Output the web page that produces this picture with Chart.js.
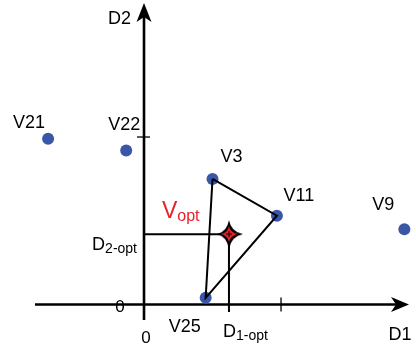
<!DOCTYPE html>
<html>
<head>
<meta charset="utf-8">
<script src="https://cdn.jsdelivr.net/npm/chart.js@4/dist/chart.umd.min.js"></script>
<style>
html,body{margin:0;padding:0;background:#fff;}
#c{display:block;}
</style>
</head>
<body>
<canvas id="c" width="416" height="347"></canvas>
<script>
// ---- data ----
const names = ['V21', 'V22', 'V3', 'V11', 'V9', 'V25'];
const d1 = [-0.70, -0.13, 0.50, 0.97, 1.90, 0.45];
const d2 = [0.99, 0.92, 0.75, 0.53, 0.45, 0.04];
const triangle = ['V3', 'V11', 'V25', 'V3'];
const optName = ['V', 'opt'];
const optD1 = [0.62];
const optD2 = [0.42];
const axisNames = ['D1', 'D2'];
const tickValues = [1];
const originLabel = ['0'];

// ---- styles / layout (not data) ----
const FONT = '"Liberation Sans", Arial, sans-serif';
const DOT = '#3a57a7';
const labelOffset = {V21: [-19, -11], V22: [-2, -20], V3: [19, -17], V11: [22, -15], V9: [-21, -19], V25: [-21, 34]};

const pts = names.map((n, i) => ({x: d1[i], y: d2[i]}));
const triPts = triangle.map(n => pts[names.indexOf(n)]);

function makeStar() {
  const c = document.createElement('canvas');
  c.width = 32; c.height = 34;
  const g = c.getContext('2d');
  const cx = 16, cy = 17;
  function star(up, down, left, right, w, col) {
    g.beginPath();
    g.moveTo(cx, cy - up);
    g.quadraticCurveTo(cx + w, cy - w, cx + right, cy);
    g.quadraticCurveTo(cx + w, cy + w, cx, cy + down);
    g.quadraticCurveTo(cx - w, cy + w, cx - left, cy);
    g.quadraticCurveTo(cx - w, cy - w, cx, cy - up);
    g.closePath();
    g.fillStyle = col; g.fill();
  }
  star(14, 15, 12, 14, 2.2, '#000');
  star(8, 8, 8, 9, 1.3, '#e8212a');
  g.fillStyle = '#000';
  g.fillRect(cx - 0.5, cy - 3, 1, 6);
  g.fillRect(cx - 3, cy - 0.5, 6, 1);
  return c;
}
const starImg = makeStar();

const axesPlugin = {
  id: 'axes',
  beforeDatasetsDraw(chart) {
    const ctx = chart.ctx, xs = chart.scales.x, ys = chart.scales.y;
    const ox = xs.getPixelForValue(0), oy = ys.getPixelForValue(0);
    ctx.save();
    ctx.strokeStyle = '#000'; ctx.fillStyle = '#000';
    ctx.lineWidth = 2.6;
    // x axis
    ctx.beginPath(); ctx.moveTo(35, oy); ctx.lineTo(400, oy); ctx.stroke();
    // y axis
    ctx.beginPath(); ctx.moveTo(ox, 320); ctx.lineTo(ox, 12); ctx.stroke();
    // arrowheads
    ctx.beginPath();
    ctx.moveTo(409, oy); ctx.lineTo(391, oy - 7.5); ctx.lineTo(396, oy); ctx.lineTo(391, oy + 7.5); ctx.closePath(); ctx.fill();
    ctx.beginPath();
    ctx.moveTo(ox, 3); ctx.lineTo(ox - 7.5, 22); ctx.lineTo(ox, 17); ctx.lineTo(ox + 7.5, 22); ctx.closePath(); ctx.fill();
    // ticks
    ctx.lineWidth = 1.3;
    tickValues.forEach(v => {
      const px = xs.getPixelForValue(v);
      ctx.beginPath(); ctx.moveTo(px, oy - 7); ctx.lineTo(px, oy + 7); ctx.stroke();
      const py = ys.getPixelForValue(v);
      ctx.beginPath(); ctx.moveTo(ox - 7, py); ctx.lineTo(ox + 6, py); ctx.stroke();
    });
    ctx.restore();
  },
  afterDatasetsDraw(chart) {
    const ctx = chart.ctx, xs = chart.scales.x, ys = chart.scales.y;
    const ox = xs.getPixelForValue(0), oy = ys.getPixelForValue(0);
    ctx.save();
    ctx.fillStyle = '#000';
    ctx.textBaseline = 'alphabetic';
    ctx.font = '18px ' + FONT;
    ctx.textAlign = 'center';
    names.forEach((n, i) => {
      const o = labelOffset[n];
      ctx.fillText(n, xs.getPixelForValue(d1[i]) + o[0], ys.getPixelForValue(d2[i]) + o[1]);
    });
    // axis names
    ctx.fillText(axisNames[0], 400, 340);
    ctx.textAlign = 'right';
    ctx.fillText(axisNames[1], ox - 13, 24);
    // zeros
    ctx.textAlign = 'center';
    ctx.font = '17px ' + FONT;
    ctx.fillText(originLabel[0], ox + 2, 343);
    ctx.fillText(originLabel[0], ox - 24, 312);
    const sx = xs.getPixelForValue(optD1[0]), sy = ys.getPixelForValue(optD2[0]);
    function sub(main, subTxt, x, y, mainSize, subSize, color, align) {
      ctx.fillStyle = color;
      ctx.font = mainSize + 'px ' + FONT;
      const w1 = ctx.measureText(main).width;
      ctx.font = subSize + 'px ' + FONT;
      const w2 = ctx.measureText(subTxt).width;
      let x0 = x;
      if (align === 'right') x0 = x - w1 - w2;
      ctx.textAlign = 'left';
      ctx.font = mainSize + 'px ' + FONT;
      ctx.fillText(main, x0, y);
      ctx.font = subSize + 'px ' + FONT;
      ctx.fillText(subTxt, x0 + w1, y + 3);
    }
    sub('D', '2-opt', ox - 7, sy + 16, 18, 14, '#000', 'right');
    sub('D', '1-opt', sx - 6, 337, 18, 14, '#000', 'left');
    sub(optName[0], optName[1], sx - 67, sy - 16, 23, 16, '#e8212a', 'left');
    ctx.restore();
  }
};

new Chart(document.getElementById('c'), {
  type: 'scatter',
  data: {
    datasets: [
      {
        label: 'Vopt', data: [{x: optD1[0], y: optD2[0]}],
        pointStyle: starImg, pointRadius: 10, order: 0
      },
      {
        label: 'triangle', data: triPts, showLine: true,
        borderColor: '#000', borderWidth: 2, pointRadius: 0, fill: false, order: 1
      },
      {
        label: 'D2-opt', data: [{x: 0, y: optD2[0]}, {x: optD1[0], y: optD2[0]}], showLine: true,
        borderColor: '#000', borderWidth: 2, pointRadius: 0, order: 2
      },
      {
        label: 'D1-opt', data: [{x: optD1[0], y: optD2[0]}, {x: optD1[0], y: -0.045}], showLine: true,
        borderColor: '#000', borderWidth: 2, pointRadius: 0, order: 2
      },
      {
        label: 'vertices', data: pts,
        backgroundColor: DOT, borderColor: DOT, pointRadius: 6, borderWidth: 0, order: 3
      }
    ]
  },
  options: {
    responsive: false,
    animation: false,
    devicePixelRatio: 1,
    layout: {padding: 0, autoPadding: false},
    plugins: {legend: {display: false}, tooltip: {enabled: false}},
    scales: {
      x: {type: 'linear', display: false, min: -1.051, max: 1.985},
      y: {type: 'linear', display: false, min: -0.2537, max: 1.818}
    }
  },
  plugins: [axesPlugin]
});
</script>
</body>
</html>
